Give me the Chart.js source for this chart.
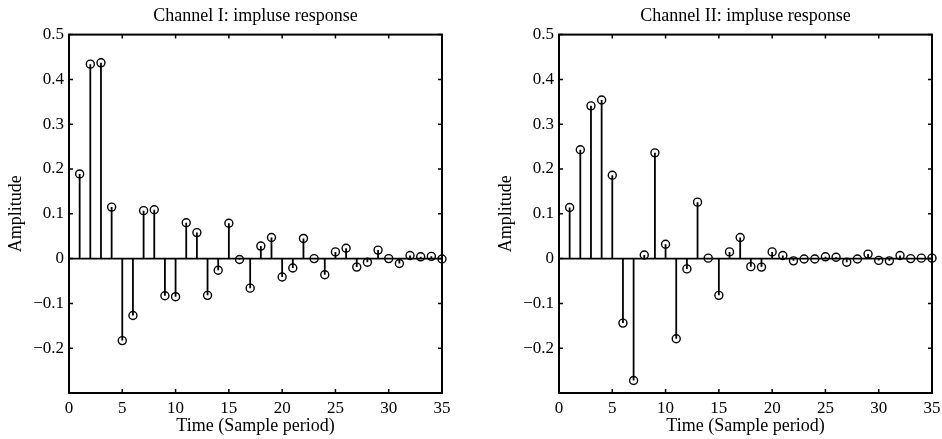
<!DOCTYPE html>
<html>
<head>
<meta charset="utf-8">
<script src="https://cdn.jsdelivr.net/npm/chart.js@4"></script>
<style>
  html, body { margin: 0; padding: 0; background: #fff; overflow: hidden; }
  .panel { position: absolute; top: 0; width: 452px; height: 439px; }
</style>
</head>
<body>
<div class="panel" style="left:0"><canvas id="chart1" width="452" height="439"></canvas></div>
<div class="panel" style="left:490px"><canvas id="chart2" width="452" height="439"></canvas></div>
<script>
// sample index (time, in sample periods)
const sampleIndex = [1, 2, 3, 4, 5, 6, 7, 8, 9, 10, 11, 12, 13, 14, 15, 16, 17, 18,
  19, 20, 21, 22, 23, 24, 25, 26, 27, 28, 29, 30, 31, 32, 33, 34, 35];

// channel I impulse response
const channel1 = [0.189, 0.434, 0.437, 0.115, -0.183, -0.127, 0.107, 0.109, -0.083, -0.085,
  0.080, 0.058, -0.082, -0.026, 0.079, -0.002, -0.066, 0.028, 0.047, -0.041,
  -0.021, 0.045, 0.000, -0.036, 0.015, 0.023, -0.019, -0.008, 0.019, 0.000,
  -0.011, 0.007, 0.004, 0.005, -0.001];

// channel II impulse response
const channel2 = [0.114, 0.243, 0.341, 0.354, 0.186, -0.144, -0.272, 0.008, 0.236, 0.032,
  -0.179, -0.023, 0.126, 0.001, -0.082, 0.015, 0.047, -0.018, -0.019, 0.015,
  0.007, -0.005, -0.001, -0.001, 0.004, 0.003, -0.008, -0.001, 0.010, -0.004,
  -0.005, 0.007, 0.000, 0.001, 0.001];

const xTickValues = [0, 5, 10, 15, 20, 25, 30, 35];
const yTickValues = [-0.2, -0.1, 0, 0.1, 0.2, 0.3, 0.4, 0.5];
const yInnerTicks = [-0.3, -0.2, -0.1, 0, 0.1, 0.2, 0.3, 0.4, 0.5];

Chart.defaults.font.family = '"Liberation Serif", "Times New Roman", serif';
Chart.defaults.color = '#000';

function fmt(v) {
  const r = Math.round(v * 10) / 10;
  return r < 0 ? '\u2212' + Math.abs(r) : String(r);
}

// stems: segment from 0 to value, separated by gaps
function stemSegments(values) {
  const pts = [];
  sampleIndex.forEach((t, i) => {
    pts.push({ x: t, y: 0 }, { x: t, y: values[i] }, { x: t, y: null });
  });
  return pts;
}

// box around the axes with inward tick marks (matlab look)
const matlabBox = {
  id: 'matlabBox',
  afterDraw(chart) {
    const { ctx, chartArea: a, scales: { x, y } } = chart;
    ctx.save();
    ctx.strokeStyle = '#000';
    ctx.lineWidth = 1.5;
    ctx.beginPath();
    xTickValues.forEach((v) => {
      const px = x.getPixelForValue(v);
      ctx.moveTo(px, a.bottom); ctx.lineTo(px, a.bottom - 4);
      ctx.moveTo(px, a.top); ctx.lineTo(px, a.top + 4);
    });
    yInnerTicks.forEach((v) => {
      const py = y.getPixelForValue(v);
      ctx.moveTo(a.left, py); ctx.lineTo(a.left + 4, py);
      ctx.moveTo(a.right, py); ctx.lineTo(a.right - 4, py);
    });
    ctx.stroke();
    ctx.lineWidth = 2;
    ctx.strokeRect(a.left, a.top, a.right - a.left, a.bottom - a.top);
    ctx.restore();
  }
};

function makeChart(id, title, values) {
  new Chart(document.getElementById(id), {
    type: 'scatter',
    data: {
      datasets: [
        {
          data: sampleIndex.map((t, i) => ({ x: t, y: values[i] })),
          pointStyle: 'circle',
          pointRadius: 4,
          pointBorderWidth: 1.4,
          borderColor: '#000',
          backgroundColor: 'rgba(0,0,0,0)',
          showLine: false,
          clip: false
        },
        {
          type: 'line',
          data: stemSegments(values),
          borderColor: '#000',
          borderWidth: 1.8,
          pointRadius: 0,
          spanGaps: false,
          tension: 0
        },
        {
          type: 'line',
          data: [{ x: 0, y: 0 }, { x: 35, y: 0 }],
          borderColor: '#000',
          borderWidth: 1.6,
          pointRadius: 0
        }
      ]
    },
    options: {
      responsive: false,
      animation: false,
      layout: { padding: { left: 0, right: 10, top: 0, bottom: 0 } },
      plugins: {
        legend: { display: false },
        tooltip: { enabled: false },
        title: {
          display: true,
          text: title,
          fullSize: false,
          color: '#000',
          font: { size: 18, weight: 'normal' },
          padding: { top: 5, bottom: 8 }
        }
      },
      scales: {
        x: {
          type: 'linear',
          min: 0,
          max: 35,
          afterBuildTicks: (s) => { s.ticks = xTickValues.map((v) => ({ value: v })); },
          afterFit: (s) => { s.height = 46; s.paddingLeft = 0; s.paddingRight = 0; },
          grid: { display: false, drawTicks: false },
          border: { display: false },
          ticks: { font: { size: 17 }, color: '#000', padding: 5, maxRotation: 0, autoSkip: false, callback: fmt },
          title: { display: true, text: 'Time (Sample period)', color: '#000', font: { size: 18 }, padding: { top: 0, bottom: 2 } }
        },
        y: {
          min: -0.3,
          max: 0.5,
          afterBuildTicks: (s) => { s.ticks = yTickValues.map((v) => ({ value: v })); },
          afterFit: (s) => { s.width = 69; },
          grid: { display: false, drawTicks: false },
          border: { display: false },
          ticks: { font: { size: 17 }, color: '#000', padding: 5, autoSkip: false, callback: fmt },
          title: { display: true, text: 'Amplitude', color: '#000', font: { size: 18 }, padding: { top: 5, bottom: 0 } }
        }
      }
    },
    plugins: [matlabBox]
  });
}

makeChart('chart1', 'Channel I: impluse response', channel1);
makeChart('chart2', 'Channel II: impluse response', channel2);
</script>
</body>
</html>
